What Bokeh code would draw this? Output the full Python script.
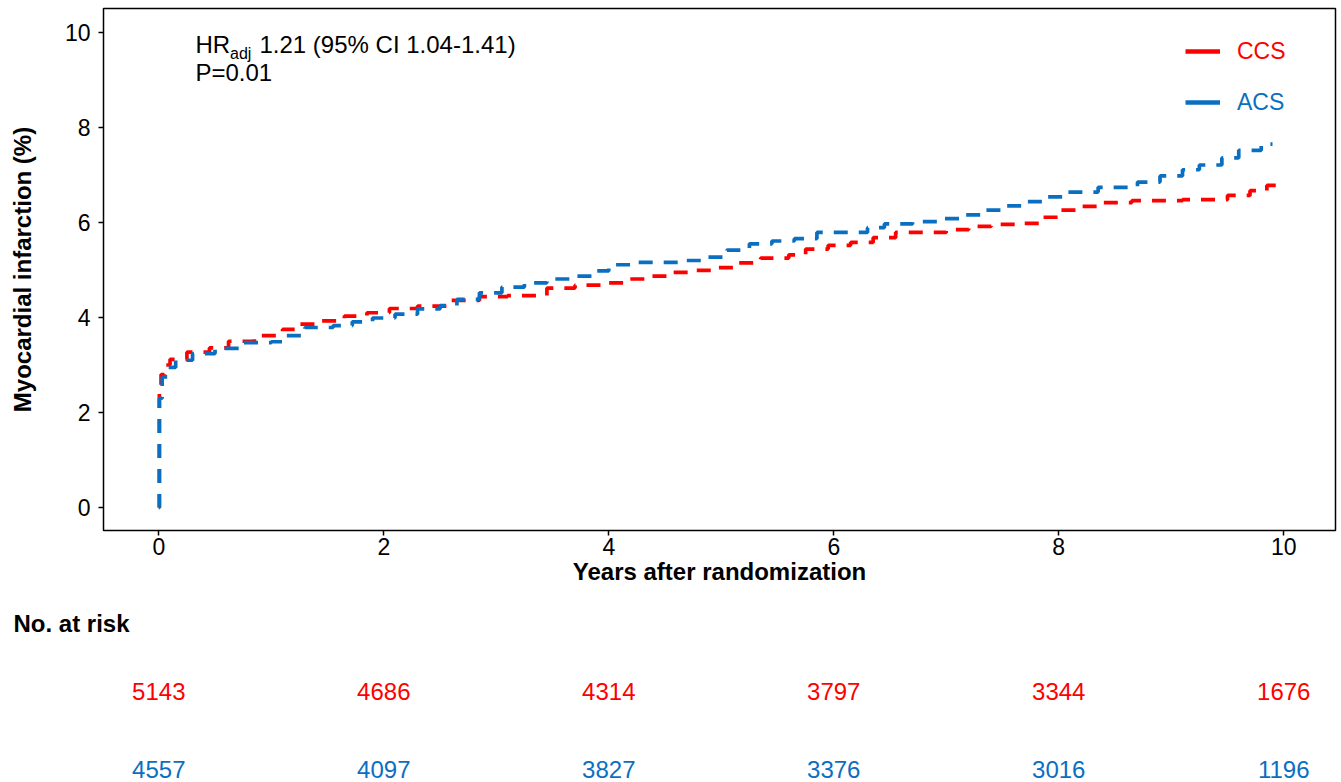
from bokeh.plotting import figure
from bokeh.models import Range1d, FixedTicker, Label, Legend, LegendItem, ColumnDataSource, Title
from bokeh.layouts import column
from bokeh.core.properties import value
from bokeh.embed import file_html
from bokeh.resources import INLINE

# ---------------- data ----------------
ccs_t = [0, 0.005, 0.02, 0.05, 0.1, 0.25, 0.45, 0.62, 0.85, 1.1, 1.25, 1.45, 1.65, 1.85, 2.05, 2.3,
         2.6, 2.85, 3.1, 3.45, 3.7, 3.95, 4.15, 4.35, 4.55, 4.75, 4.95, 5.15, 5.35, 5.6, 5.75, 5.95,
         6.15, 6.35, 6.55, 7.0, 7.2, 7.4, 7.65, 7.85, 8.0, 8.2, 8.4, 8.65, 9.1, 9.5, 9.7, 9.85, 9.99]
ccs_v = [0, 2.5, 2.8, 3.0, 3.12, 3.27, 3.36, 3.5, 3.62, 3.75, 3.86, 3.93, 4.03, 4.1, 4.19, 4.24,
         4.36, 4.44, 4.46, 4.62, 4.68, 4.73, 4.81, 4.87, 4.95, 4.99, 5.05, 5.15, 5.25, 5.32, 5.44, 5.52,
         5.58, 5.68, 5.79, 5.85, 5.92, 5.96, 5.98, 6.11, 6.26, 6.34, 6.42, 6.46, 6.48, 6.57, 6.67, 6.78, 6.78]

acs_t = [0, 0.005, 0.03, 0.08, 0.15, 0.3, 0.5, 0.75, 1.0, 1.1, 1.3, 1.55, 1.72, 1.9, 2.1, 2.3, 2.5,
         2.65, 2.85, 3.05, 3.25, 3.45, 3.65, 3.85, 4.0, 4.25, 4.65, 4.85, 5.05, 5.25, 5.45, 5.65, 5.85,
         6.3, 6.45, 6.7, 6.95, 7.15, 7.35, 7.5, 7.7, 7.9, 8.05, 8.35, 8.7, 8.9, 9.1, 9.25, 9.45, 9.6, 9.8, 9.9]
acs_v = [0, 2.3, 2.75, 2.95, 3.1, 3.24, 3.35, 3.47, 3.49, 3.62, 3.79, 3.83, 3.91, 3.99, 4.07, 4.18, 4.25,
         4.38, 4.52, 4.64, 4.73, 4.81, 4.87, 4.98, 5.11, 5.16, 5.2, 5.27, 5.42, 5.55, 5.61, 5.66, 5.79,
         5.89, 5.97, 6.02, 6.08, 6.16, 6.26, 6.35, 6.44, 6.54, 6.64, 6.74, 6.85, 6.98, 7.11, 7.21, 7.36, 7.52, 7.65, 7.65]

x_ticks = [0, 2, 4, 6, 8, 10]
y_ticks = [0, 2, 4, 6, 8, 10]

risk_years = [0, 2, 4, 6, 8, 10]
ccs_risk = [5143, 4686, 4314, 3797, 3344, 1676]
acs_risk = [4557, 4097, 3827, 3376, 3016, 1196]

series_names = ["CCS", "ACS"]

RED = "#FF0000"
BLUE = "#0B6FC1"
FONT = "Liberation Sans"
NAN = float("nan")

# ---------------- main plot ----------------
xr = Range1d(-0.4916, 10.46)
p = figure(width=1341, height=600, output_backend="svg", toolbar_location=None,
           x_range=xr, y_range=Range1d(-0.484, 10.505),
           min_border_left=103, min_border_right=6, min_border_top=8, min_border_bottom=70)
p.grid.visible = False
p.outline_line_color = "black"
p.outline_line_width = 1.5
p.background_fill_color = "white"

for ax in (p.xaxis, p.yaxis):
    ax.axis_line_color = None
    ax.major_tick_line_color = "black"
    ax.major_tick_line_width = 1.5
    ax.major_tick_out = 5
    ax.major_tick_in = 0
    ax.minor_tick_line_color = None
    ax.major_label_text_font = FONT
    ax.major_label_text_font_size = "23px"
    ax.major_label_text_color = "black"
    ax.axis_label_text_font = FONT
    ax.axis_label_text_font_size = "24px"
    ax.axis_label_text_font_style = "bold"
    ax.axis_label_text_color = "black"

p.xaxis.ticker = FixedTicker(ticks=x_ticks)
p.yaxis.ticker = FixedTicker(ticks=y_ticks)
p.xaxis.axis_label = "Years after randomization"
p.yaxis.axis_label = "Myocardial infarction (%)"
p.xaxis.major_label_standoff = 2
p.xaxis.axis_label_standoff = 0
p.yaxis.major_label_standoff = 8
p.yaxis.axis_label_standoff = 26

src_ccs = ColumnDataSource(dict(t=ccs_t, v=ccs_v))
src_acs = ColumnDataSource(dict(t=acs_t, v=acs_v))
p.step("t", "v", source=src_ccs, mode="after", line_color=RED, line_width=3.7, line_dash="14 11")
p.step("t", "v", source=src_acs, mode="after", line_color=BLUE, line_width=3.7, line_dash="14 11")

# legend key renderers (solid, no visible data)
key_ccs = p.line(x=[NAN, NAN], y=[NAN, NAN], line_color=RED, line_width=4.5)
key_acs = p.line(x=[NAN, NAN], y=[NAN, NAN], line_color=BLUE, line_width=4.5)

for name, rend, col, loc in ((series_names[0], key_ccs, RED, (1082, 464)),
                             (series_names[1], key_acs, BLUE, (1082, 413))):
    lg = Legend(items=[LegendItem(label=name, renderers=[rend])], location=loc,
                label_text_color=col, label_text_font=FONT, label_text_font_size="23px",
                glyph_width=35, glyph_height=30, label_standoff=17, padding=0, margin=0,
                border_line_color=None, background_fill_alpha=0)
    p.add_layout(lg, "center")

# annotation text
p.add_layout(Label(x=0.326, y=9.737, text="HR", text_baseline="middle",
                   text_font=FONT, text_font_size="24px", text_color="black"))
p.add_layout(Label(x=0.633, y=9.562, text="adj", text_baseline="middle",
                   text_font=FONT, text_font_size="16px", text_color="black"))
p.add_layout(Label(x=0.895, y=9.737, text="1.21 (95% CI 1.04-1.41)", text_baseline="middle",
                   text_font=FONT, text_font_size="24px", text_color="black"))
p.add_layout(Label(x=0.326, y=9.158, text="P=0.01", text_baseline="middle",
                   text_font=FONT, text_font_size="24px", text_color="black"))

# ---------------- risk table ----------------
t = figure(width=1341, height=182, output_backend="svg", toolbar_location=None,
           x_range=xr, y_range=Range1d(-0.1667, 1.641),
           x_axis_type=None, y_axis_type=None,
           min_border_left=103, min_border_right=6, min_border_top=41, min_border_bottom=0)
t.grid.visible = False
t.outline_line_color = None
t.title = Title(text="No. at risk", align="left", offset=-90, standoff=10,
                text_font=FONT, text_font_size="24px", text_font_style="bold",
                text_color="black")

t.text(x=risk_years, y=[1] * len(risk_years), text=[str(n) for n in ccs_risk],
       text_align="center", text_baseline="middle", text_font=value(FONT),
       text_font_size="24px", text_color=RED)
t.text(x=risk_years, y=[0] * len(risk_years), text=[str(n) for n in acs_risk],
       text_align="center", text_baseline="middle", text_font=value(FONT),
       text_font_size="24px", text_color=BLUE)

layout = column(p, t)
open("out.html", "w").write(file_html(layout, INLINE))
